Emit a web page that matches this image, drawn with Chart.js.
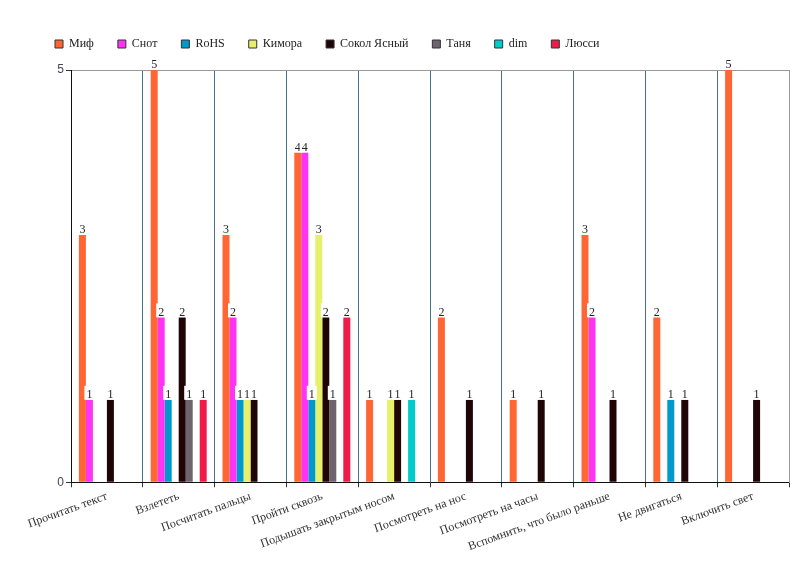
<!DOCTYPE html>
<html>
<head>
<meta charset="utf-8">
<script src="https://cdn.jsdelivr.net/npm/chart.js@4"></script>
<style>
  html, body { margin: 0; padding: 0; background: #fff; }
  #wrap { width: 800px; height: 588px; }
</style>
</head>
<body>
<div id="wrap"><canvas id="myChart"></canvas></div>
<script>
var labels = ["Прочитать текст", "Взлететь", "Посчитать пальцы", "Пройти сквозь", "Подышать закрытым носом",
              "Посмотреть на нос", "Посмотреть на часы", "Вспомнить, что было раньше", "Не двигаться", "Включить свет"];

var seriesNames = ["Миф", "Снот", "RoHS", "Кимора", "Сокол Ясный", "Таня", "dim", "Люсси"];
var seriesColors = ["#ff6633", "#ff33f6", "#0099cc", "#e6f06a", "#1f0505", "#6e646e", "#00cccc", "#ee1c48"];

var mif    = [3, 5, 3, 4, 1, 2, 1, 3, 2, 5];
var snot   = [1, 2, 2, 4, 0, 0, 0, 2, 0, 0];
var rohs   = [0, 1, 1, 1, 0, 0, 0, 0, 1, 0];
var kimora = [0, 0, 1, 3, 1, 0, 0, 0, 0, 0];
var sokol  = [1, 2, 1, 2, 1, 1, 1, 1, 1, 1];
var tanya  = [0, 1, 0, 1, 0, 0, 0, 0, 0, 0];
var dim    = [0, 0, 0, 0, 1, 0, 0, 0, 0, 0];
var lyussi = [0, 1, 0, 2, 0, 0, 0, 0, 0, 0];

var yTicks = [0, 5];

var allData = [mif, snot, rohs, kimora, sokol, tanya, dim, lyussi];

var serif = "'Liberation Serif', 'DejaVu Serif', serif";

// подписи значений над столбиками
var valueLabels = {
    id: 'valueLabels',
    afterDatasetsDraw: function (chart) {
        var ctx = chart.ctx;
        ctx.save();
        ctx.font = "12px " + serif;
        ctx.textAlign = 'center';
        ctx.textBaseline = 'bottom';
        chart.data.datasets.forEach(function (ds, i) {
            var meta = chart.getDatasetMeta(i);
            meta.data.forEach(function (bar, j) {
                var v = ds.data[j];
                if (!v) return;
                var w = ctx.measureText(String(v)).width + 4;
                ctx.fillStyle = '#ffffff';
                ctx.fillRect(bar.x - w / 2, bar.y - 14, w, 14);
                ctx.fillStyle = '#222222';
                ctx.fillText(String(v), bar.x, bar.y + 1);
            });
        });
        ctx.restore();
    }
};

var ctx = document.getElementById("myChart").getContext('2d');

var myChart = new Chart(ctx, {
    type: 'bar',
    data: {
        labels: labels,
        datasets: allData.map(function (d, i) {
            return {
                label: seriesNames[i],
                data: d,
                backgroundColor: seriesColors[i],
                borderWidth: 0,
                categoryPercentage: 0.78,
                barPercentage: 1.0
            };
        })
    },
    options: {
        responsive: true,
        maintainAspectRatio: false,
        animation: false,
        layout: {
            padding: { top: 14, left: 31, right: 11, bottom: 32 }
        },
        plugins: {
            tooltip: { enabled: false },
            legend: {
                position: 'top',
                align: 'start',
                labels: {
                    boxWidth: 8,
                    boxHeight: 8,
                    padding: 24,
                    color: '#222',
                    font: { family: serif, size: 12 },
                    generateLabels: function (chart) {
                        var items = Chart.defaults.plugins.legend.labels.generateLabels(chart);
                        items.forEach(function (it) {
                            it.strokeStyle = '#333';
                            it.lineWidth = 1;
                        });
                        return items;
                    }
                }
            }
        },
        scales: {
            x: {
                offset: true,
                grid: {
                    offset: true,
                    color: '#4e6e8e',
                    tickColor: '#333',
                    tickLength: 5
                },
                border: { color: '#111', width: 1 },
                ticks: {
                    color: '#333',
                    minRotation: 20,
                    maxRotation: 20,
                    autoSkip: false,
                    padding: 2,
                    font: { family: serif, size: 12 }
                }
            },
            x2: {
                position: 'top',
                grid: { display: true, drawOnChartArea: false, drawTicks: true, tickLength: 10, tickColor: 'rgba(0,0,0,0)' },
                border: { color: '#999', width: 1 },
                ticks: { display: false }
            },
            y: {
                min: 0,
                max: 5,
                afterBuildTicks: function (scale) {
                    scale.ticks = yTicks.map(function (v) { return { value: v }; });
                },
                afterFit: function (scale) {
                    scale.width = 40;
                },
                grid: {
                    drawOnChartArea: false,
                    tickColor: '#333',
                    tickLength: 5
                },
                border: { color: '#111', width: 1 },
                ticks: {
                    color: '#445',
                    padding: 2,
                    font: { family: "'Liberation Sans', 'DejaVu Sans', sans-serif", size: 12 }
                }
            },
            y2: {
                position: 'right',
                min: 0,
                max: 5,
                grid: { display: false, drawTicks: false },
                border: { color: '#999', width: 1 },
                ticks: { display: false }
            }
        }
    },
    plugins: [valueLabels]
});
</script>
</body>
</html>
